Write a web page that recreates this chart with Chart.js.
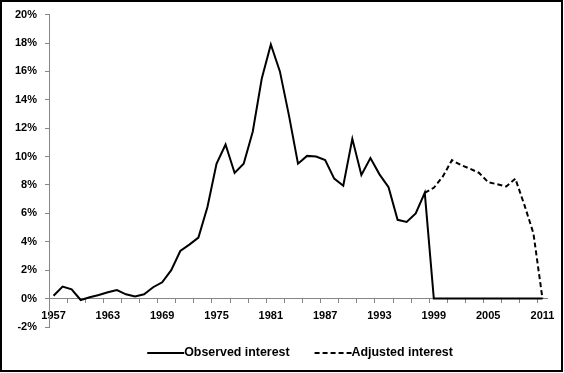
<!DOCTYPE html>
<html>
<head>
<meta charset="utf-8">
<script src="https://cdn.jsdelivr.net/npm/chart.js@4.4.1/dist/chart.umd.min.js"></script>
<style>
  html, body { margin: 0; padding: 0; background: #fff; }
  #wrap { width: 564px; height: 373px; }
</style>
</head>
<body>
<div id="wrap"><canvas id="grafik" width="564" height="373"></canvas></div>
<script>
// years on the category axis
var years = ['1957', '1958', '1959', '1960', '1961', '1962', '1963', '1964', '1965', '1966',
    '1967', '1968', '1969', '1970', '1971', '1972', '1973', '1974', '1975', '1976',
    '1977', '1978', '1979', '1980', '1981', '1982', '1983', '1984', '1985', '1986',
    '1987', '1988', '1989', '1990', '1991', '1992', '1993', '1994', '1995', '1996',
    '1997', '1998', '1999', '2000', '2001', '2002', '2003', '2004', '2005', '2006',
    '2007', '2008', '2009', '2010', '2011'];

// only these get a label
var tickYears = ['1957', '1963', '1969', '1975', '1981', '1987', '1993', '1999', '2005', '2011'];

// observed interest in %
var observed = [0.2, 0.85, 0.65, -0.1, 0.1, 0.25, 0.45, 0.6, 0.3, 0.15,
    0.3, 0.8, 1.15, 2.0, 3.35, 3.8, 4.3, 6.45, 9.5, 10.85,
    8.85, 9.5, 11.75, 15.5, 17.9, 16.0, 12.9, 9.5, 10.05, 10.0,
    9.75, 8.45, 7.95, 11.25, 8.7, 9.9, 8.75, 7.85, 5.55, 5.4,
    6.0, 7.45, 0, 0, 0, 0, 0, 0, 0, 0,
    0, 0, 0, 0, 0];

// adjusted interest in %, starts in 1998
var adjusted = [null, null, null, null, null, null, null, null, null, null,
    null, null, null, null, null, null, null, null, null, null,
    null, null, null, null, null, null, null, null, null, null,
    null, null, null, null, null, null, null, null, null, null,
    null, 7.45, 7.8, 8.6, 9.75, 9.4, 9.15, 8.85, 8.2, 8.05,
    7.9, 8.45, 6.6, 4.6, 0];

var axisGrey = '#868686';
var fontFamily = 'Arial, "Liberation Sans", sans-serif';
var boldFont = { family: fontFamily, size: 11, weight: 'bold' };

// frame round the whole picture
var frame = {
    id: 'frame',
    afterDraw: function (chart) {
        var c = chart.ctx;
        c.save();
        c.strokeStyle = '#000';
        c.lineWidth = 2;
        c.strokeRect(1, 1, 561, 370);
        c.restore();
    }
};

// legend under the plot, line sample right before its text (dashes too)
var legendRow = {
    id: 'legendRow',
    afterDraw: function (chart) {
        var c = chart.ctx;
        var sets = chart.data.datasets;
        var sample = 37, gap = 25;
        c.save();
        c.font = 'bold 12.4px ' + fontFamily;
        var total = 0;
        sets.forEach(function (d, i) {
            total += sample + c.measureText(d.label).width + (i ? gap : 0);
        });
        var x = (chart.chartArea.left + chart.chartArea.right) / 2 + 2 - total / 2;
        var y = 353;
        sets.forEach(function (d) {
            c.beginPath();
            c.setLineDash(d.borderDash || []);
            c.lineWidth = d.borderWidth;
            c.strokeStyle = d.borderColor;
            c.moveTo(x, y);
            c.lineTo(x + sample, y);
            c.stroke();
            c.setLineDash([]);
            c.fillStyle = '#000';
            c.textBaseline = 'middle';
            c.fillText(d.label, x + sample, y);
            x += sample + c.measureText(d.label).width + gap;
        });
        c.restore();
    }
};

var ctx = document.getElementById('grafik').getContext('2d');
var chart = new Chart(ctx, {
    // The type of chart we want to create
    type: 'line',

    // The data for our dataset
    data: {
        labels: years,
        datasets: [{
            label: 'Observed interest',
            data: observed,
            borderColor: '#000',
            backgroundColor: '#000',
            borderWidth: 2,
            pointRadius: 0,
            tension: 0,
            fill: false
        }, {
            label: 'Adjusted interest',
            data: adjusted,
            borderColor: '#000',
            backgroundColor: '#000',
            borderWidth: 2,
            borderDash: [5, 3],
            pointRadius: 0,
            tension: 0,
            fill: false
        }]
    },

    options: {
        responsive: false,
        animation: false,
        devicePixelRatio: 1,
        layout: {
            padding: { left: 0, right: 17, top: 10, bottom: 46 }
        },
        scales: {
            x: {
                type: 'category',
                offset: true,
                position: { y: 0 },
                grid: {
                    offset: true,
                    drawOnChartArea: false,
                    tickLength: 4,
                    color: function (c) {
                        return c.index % 2 === 0 ? axisGrey : 'rgba(0,0,0,0)';
                    }
                },
                border: { color: axisGrey, width: 1 },
                ticks: {
                    autoSkip: false,
                    maxRotation: 0,
                    padding: 7,
                    color: '#000',
                    font: boldFont,
                    callback: function (v) {
                        var y = this.getLabelForValue(v);
                        return tickYears.indexOf(y) >= 0 ? y : '';
                    }
                }
            },
            y: {
                min: -2,
                max: 20,
                grid: {
                    drawOnChartArea: false,
                    tickLength: 4,
                    color: axisGrey
                },
                border: { color: axisGrey, width: 1 },
                ticks: {
                    stepSize: 2,
                    padding: 8,
                    color: '#000',
                    font: boldFont,
                    callback: function (v) {
                        return v + '%';
                    }
                },
                afterFit: function (s) {
                    s.width = 49;
                }
            }
        },
        plugins: {
            tooltip: { enabled: false },
            legend: { display: false }
        }
    },
    plugins: [frame, legendRow]
});
</script>
</body>
</html>
